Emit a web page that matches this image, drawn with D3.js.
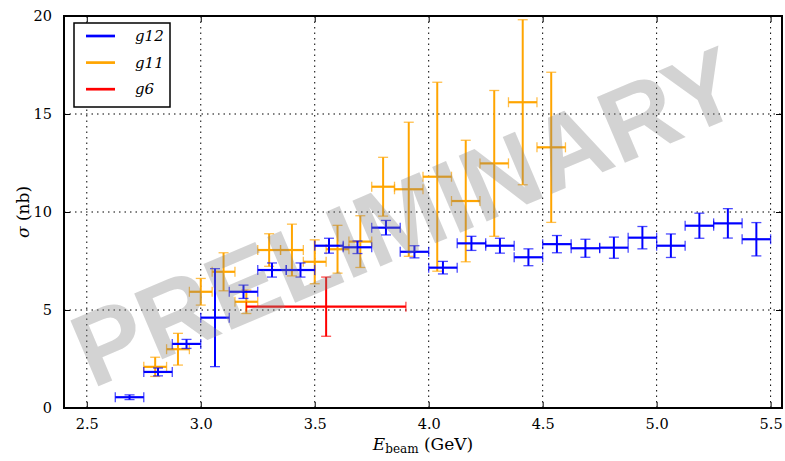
<!DOCTYPE html>
<html>
<head>
<meta charset="utf-8">
<script src="https://cdn.jsdelivr.net/npm/d3@7"></script>
<style>
  body { margin: 0; background: #fff; }
</style>
</head>
<body>
<div class="display-svg"></div>
<script>
// g12 (blue)
var g12E      = [2.6875, 2.8125, 2.9375, 3.0625, 3.1875, 3.3125, 3.4375, 3.5625, 3.6875, 3.8125, 3.9375, 4.0625,
                 4.1875, 4.3125, 4.4375, 4.5625, 4.6875, 4.8125, 4.9375, 5.0625, 5.1875, 5.3125, 5.4375];
var g12EErr   = [0.0625, 0.0625, 0.0625, 0.0625, 0.0625, 0.0625, 0.0625, 0.0625, 0.0625, 0.0625, 0.0625, 0.0625,
                 0.0625, 0.0625, 0.0625, 0.0625, 0.0625, 0.0625, 0.0625, 0.0625, 0.0625, 0.0625, 0.0625];
var g12Sigma  = [0.55, 1.84, 3.27, 4.61, 5.93, 7.04, 7.04, 8.28, 8.20, 9.20, 7.97, 7.16,
                 8.40, 8.28, 7.69, 8.36, 8.15, 8.18, 8.69, 8.28, 9.30, 9.42, 8.61];
var g12SigErr = [0.12, 0.20, 0.23, 2.50, 0.34, 0.36, 0.36, 0.38, 0.32, 0.37, 0.31, 0.32,
                 0.36, 0.38, 0.43, 0.44, 0.46, 0.54, 0.57, 0.60, 0.64, 0.75, 0.85];

// g11 (orange)
var g11E      = [2.8, 2.9, 3.0, 3.1, 3.2, 3.3, 3.4, 3.5, 3.6, 3.7, 3.8, 3.9125, 4.0375, 4.1625, 4.2875, 4.4125, 4.5375];
var g11EErr   = [0.05, 0.05, 0.05, 0.05, 0.05, 0.05, 0.05, 0.05, 0.05, 0.05, 0.05, 0.0625, 0.0625, 0.0625, 0.0625, 0.0625, 0.0625];
var g11Sigma  = [2.10, 3.00, 5.93, 6.95, 5.42, 8.06, 8.06, 7.46, 8.10, 8.49, 11.29, 11.16, 11.80, 10.56, 12.48, 15.60, 13.30];
var g11SigErr = [0.49, 0.81, 0.68, 0.97, 0.60, 0.83, 1.32, 1.12, 1.22, 1.32, 1.50, 3.42, 4.82, 3.10, 3.72, 4.21, 3.83];

// g6 (red)
var g6E      = [3.55];
var g6EErr   = [0.35];
var g6Sigma  = [5.17];
var g6SigErr = [1.51];

var xTicks = [2.5, 3.0, 3.5, 4.0, 4.5, 5.0, 5.5];
var yTicks = [0, 5, 10, 15, 20];

var serif = '"DejaVu Serif", serif';

var width = 785,
    height = 461,
    margin = {top: 16, right: 3, bottom: 53, left: 64};

var svg = d3.select('.display-svg')
  .append('svg')
  .attr('width', width)
  .attr('height', height);

var xScale = d3.scaleLinear()
  .domain([2.4, 5.55])
  .range([margin.left, width - margin.right]);

var yScale = d3.scaleLinear()
  .domain([0, 20])
  .range([height - margin.bottom, margin.top]);

var plotTop = margin.top, plotBottom = height - margin.bottom;
var plotLeft = margin.left, plotRight = width - margin.right;

// dotted grid
svg.append('g').selectAll('line')
  .data(xTicks)
  .enter().append('line')
  .attr('x1', d => xScale(d)).attr('x2', d => xScale(d))
  .attr('y1', plotTop).attr('y2', plotBottom)
  .attr('stroke', '#000').attr('stroke-width', 1)
  .attr('stroke-dasharray', '1.5,4');

svg.append('g').selectAll('line')
  .data(yTicks)
  .enter().append('line')
  .attr('y1', d => yScale(d)).attr('y2', d => yScale(d))
  .attr('x1', plotLeft).attr('x2', plotRight)
  .attr('stroke', '#000').attr('stroke-width', 1)
  .attr('stroke-dasharray', '1.5,4');

// axes (ticks pointing inward)
var xAxis = d3.axisBottom(xScale).tickValues(xTicks).tickFormat(d3.format('.1f')).tickSizeInner(-6).tickSizeOuter(0).tickPadding(11);
var yAxis = d3.axisLeft(yScale).tickValues(yTicks).tickFormat(d3.format('d')).tickSizeInner(-6).tickSizeOuter(0).tickPadding(12);

function styleAxis(g) {
  g.select('.domain').remove();
  g.selectAll('.tick line').attr('stroke', '#000').attr('stroke-width', 1);
  g.selectAll('.tick text').attr('fill', '#000')
    .style('font-family', serif).style('font-size', '14.5px');
}

svg.append('g')
  .attr('transform', 'translate(0,' + plotBottom + ')')
  .call(xAxis).call(styleAxis);

svg.append('g')
  .attr('transform', 'translate(' + plotLeft + ',0)')
  .call(yAxis).call(styleAxis);

// top and right ticks
svg.append('g')
  .attr('transform', 'translate(0,' + plotTop + ')')
  .call(d3.axisTop(xScale).tickValues(xTicks).tickSizeInner(-6).tickSizeOuter(0).tickFormat(''))
  .call(styleAxis);
svg.append('g')
  .attr('transform', 'translate(' + plotRight + ',0)')
  .call(d3.axisRight(yScale).tickValues(yTicks).tickSizeInner(-6).tickSizeOuter(0).tickFormat(''))
  .call(styleAxis);

// error bars
function drawSeries(E, EErr, S, SErr, color) {
  var pts = E.map((e, i) => ({e: e, ex: EErr[i], s: S[i], sx: SErr[i]}));
  var g = svg.append('g');
  var cap = 5;
  // horizontal bars
  g.selectAll('.hbar').data(pts).enter().append('line')
    .attr('x1', d => xScale(d.e - d.ex)).attr('x2', d => xScale(d.e + d.ex))
    .attr('y1', d => yScale(d.s)).attr('y2', d => yScale(d.s))
    .attr('stroke', color).attr('stroke-width', 2.2);
  // vertical bars
  g.selectAll('.vbar').data(pts).enter().append('line')
    .attr('x1', d => xScale(d.e)).attr('x2', d => xScale(d.e))
    .attr('y1', d => yScale(d.s - d.sx)).attr('y2', d => yScale(d.s + d.sx))
    .attr('stroke', color).attr('stroke-width', 2);
  // caps
  [-1, 1].forEach(function(sign) {
    g.selectAll('.vcap' + sign).data(pts).enter().append('line')
      .attr('x1', d => xScale(d.e) - cap).attr('x2', d => xScale(d.e) + cap)
      .attr('y1', d => yScale(d.s + sign * d.sx)).attr('y2', d => yScale(d.s + sign * d.sx))
      .attr('stroke', color).attr('stroke-width', 1.3).attr('opacity', 0.7);
    g.selectAll('.hcap' + sign).data(pts).enter().append('line')
      .attr('x1', d => xScale(d.e + sign * d.ex)).attr('x2', d => xScale(d.e + sign * d.ex))
      .attr('y1', d => yScale(d.s) - cap).attr('y2', d => yScale(d.s) + cap)
      .attr('stroke', color).attr('stroke-width', 1.3).attr('opacity', 0.7);
  });
}

drawSeries(g11E, g11EErr, g11Sigma, g11SigErr, '#ffa500');
drawSeries(g12E, g12EErr, g12Sigma, g12SigErr, '#0000ff');
drawSeries(g6E, g6EErr, g6Sigma, g6SigErr, '#ff0000');

// watermark
svg.append('text')
  .attr('transform', 'translate(92,389) rotate(-23)')
  .attr('text-anchor', 'start')
  .style('font-family', '"Liberation Sans", Arial, sans-serif')
  .style('font-weight', 'bold')
  .style('font-size', '104px')
  .attr('fill', '#808080')
  .attr('fill-opacity', 0.35)
  .text('PRELIMINARY');

// frame
svg.append('rect')
  .attr('x', plotLeft).attr('y', plotTop)
  .attr('width', plotRight - plotLeft).attr('height', plotBottom - plotTop)
  .attr('fill', 'none').attr('stroke', '#000').attr('stroke-width', 2);

// legend
var legendItems = [
  {label: 'g12', color: '#0000ff'},
  {label: 'g11', color: '#ffa500'},
  {label: 'g6',  color: '#ff0000'}
];
var legend = svg.append('g');
legend.append('rect')
  .attr('x', 74).attr('y', 23).attr('width', 96).attr('height', 84)
  .attr('fill', '#fff').attr('stroke', '#000').attr('stroke-width', 1.5);
legend.selectAll('.item').data(legendItems).enter().append('g')
  .attr('transform', (d, i) => 'translate(0,' + (36 + i * 26.6) + ')')
  .each(function(d) {
    var it = d3.select(this);
    it.append('line').attr('x1', 86).attr('x2', 115).attr('y1', 0).attr('y2', 0)
      .attr('stroke', d.color).attr('stroke-width', 2.7);
    it.append('text').attr('x', 135).attr('y', 5)
      .style('font-family', serif)
      .style('font-style', 'italic').style('font-size', '15px')
      .text(d.label);
  });

// axis labels
var xl = svg.append('text')
  .attr('x', (plotLeft + plotRight) / 2).attr('y', 450)
  .attr('text-anchor', 'middle')
  .style('font-family', serif)
  .style('font-size', '17px');
xl.append('tspan').style('font-style', 'italic').text('E');
xl.append('tspan').attr('dy', 3).style('font-size', '12px').text('beam');
xl.append('tspan').attr('dy', -3).text(' (GeV)');

var yl = svg.append('text')
  .attr('transform', 'translate(29,' + ((plotTop + plotBottom) / 2) + ') rotate(-90)')
  .attr('text-anchor', 'middle')
  .style('font-family', serif)
  .style('font-size', '17px');
yl.append('tspan').style('font-style', 'italic').text('σ');
yl.append('tspan').text(' (nb)');
</script>
</body>
</html>
